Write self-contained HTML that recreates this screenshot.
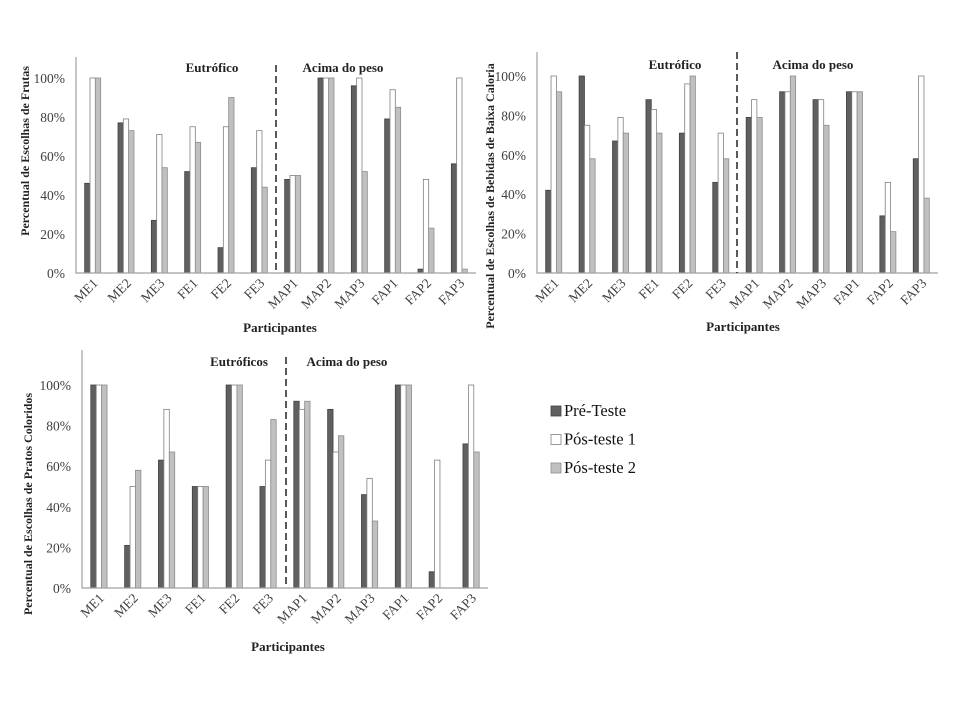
<!DOCTYPE html>
<html><head><meta charset="utf-8"><style>
body{margin:0;background:#fff;}
svg{display:block;font-family:"Liberation Serif",serif;}
</style></head><body>
<svg id="root" width="960" height="720" viewBox="0 0 960 720"></svg>
<script>
const categories = ["ME1","ME2","ME3","FE1","FE2","FE3","MAP1","MAP2","MAP3","FAP1","FAP2","FAP3"];
const seriesNames = ["Pré-Teste","Pós-teste 1","Pós-teste 2"];
const yTicks = [0,20,40,60,80,100];
const frutasPre = [46,77,27,52,13,54,48,100,96,79,2,56];
const frutasPos1 = [100,79,71,75,75,73,50,100,100,94,48,100];
const frutasPos2 = [100,73,54,67,90,44,50,100,52,85,23,2];
const bebidasPre = [42,100,67,88,71,46,79,92,88,92,29,58];
const bebidasPos1 = [100,75,79,83,96,71,88,92,88,92,46,100];
const bebidasPos2 = [92,58,71,71,100,58,79,100,75,92,21,38];
const pratosPre = [100,21,63,50,100,50,92,88,46,100,8,71];
const pratosPos1 = [100,50,88,50,100,63,88,67,54,100,63,100];
const pratosPos2 = [100,58,67,50,100,83,92,75,33,100,0,67];

const NS="http://www.w3.org/2000/svg";
const root=document.getElementById('root');
const fills=["#606060","#ffffff","#c0c0c0"];
const strokes=["#404040","#808080","#8c8c8c"];
function mk(tag,attrs,parent){const e=document.createElementNS(NS,tag);for(const k in attrs)e.setAttribute(k,attrs[k]);(parent||root).appendChild(e);return e;}

function chart(id,cfg,series){
  const g=mk('g',{});
  
  
  const x0=cfg.x0,x1=cfg.x1,yb=cfg.y0,yt=cfg.y100;
  const yS=v=>yb-(v/100)*(yb-yt);
  const gw=(x1-x0)/categories.length;
  const bw=gw*0.16;
  // y ticks
  yTicks.forEach(t=>{
    const tx=mk('text',{x:x0-11,y:yS(t)+5,'text-anchor':'end','font-size':13.5,fill:'#404040'},g);
    tx.textContent=t+'%';
    
    
  });
  // bars
  categories.forEach((c,i)=>{
    const cx=x0+gw*(i+0.5);
    series.forEach((arr,s)=>{
      const v=arr[i];
      const r=mk('rect',{x:cx-1.5*bw+s*bw,y:yS(v),width:bw,height:Math.max(0,yb-yS(v)),fill:fills[s],stroke:strokes[s],'stroke-width':0.8},g);
      
      
    });
    const lx=cx+6,ly=yb+11;
    const tl=mk('text',{x:lx,y:ly,'text-anchor':'end','font-size':13.5,fill:'#404040',transform:`rotate(-45 ${lx} ${ly})`},g);
    tl.textContent=c;
    
    
  });
  // axes
  const ax=mk('path',{d:`M${x0} ${cfg.top} V${yb} H${x1}`,fill:'none',stroke:'#a0a0a0','stroke-width':1.2},g);
  
  
  const dl=mk('line',{x1:cfg.dash,x2:cfg.dash,y1:cfg.dashTop,y2:yb,stroke:'#222','stroke-width':1.5,'stroke-dasharray':'7,4'},g);
  
  
  const l1=mk('text',{x:cfg.lab1x,y:cfg.laby,'text-anchor':'middle','font-size':13,'font-weight':'bold',fill:'#222'},g);
  l1.textContent=cfg.lab1;
  
  
  const l2=mk('text',{x:cfg.lab2x,y:cfg.laby,'text-anchor':'middle','font-size':13,'font-weight':'bold',fill:'#222'},g);
  l2.textContent='Acima do peso';
  
  
  const xt=mk('text',{x:cfg.xtx,y:cfg.xty,'text-anchor':'middle','font-size':13,'font-weight':'bold',fill:'#222'},g);
  xt.textContent='Participantes';
  
  
  const yt2=mk('text',{x:cfg.ytx,y:cfg.yty,'text-anchor':'middle','font-size':12,'font-weight':'bold',fill:'#222',transform:`rotate(-90 ${cfg.ytx} ${cfg.yty})`},g);
  yt2.textContent=cfg.ytitle;
  
  
}

chart('frutas',{x0:76,x1:476,y0:273,y100:78,top:57,dash:276,dashTop:65,lab1:'Eutrófico',lab1x:212,lab2x:343,laby:72,xtx:280,xty:332,ytx:29,yty:151,ytitle:'Percentual de Escolhas de Frutas'},[frutasPre,frutasPos1,frutasPos2]);
chart('bebidas',{x0:537,x1:938,y0:273,y100:76,top:52,dash:737,dashTop:52,lab1:'Eutrófico',lab1x:675,lab2x:813,laby:69,xtx:743,xty:331,ytx:494,yty:196,ytitle:'Percentual de Escolhas de Bebidas de Baixa Caloria'},[bebidasPre,bebidasPos1,bebidasPos2]);
chart('pratos',{x0:82,x1:488,y0:588,y100:385,top:350,dash:286,dashTop:357,lab1:'Eutróficos',lab1x:239,lab2x:347,laby:366,xtx:288,xty:651,ytx:32,yty:504,ytitle:'Percentual de Escolhas de Pratos Coloridos'},[pratosPre,pratosPos1,pratosPos2]);

// legend
const lg=mk('g',{});


seriesNames.forEach((n,s)=>{
  const y=406+s*28.5;
  const r=mk('rect',{x:551,y:y,width:10,height:10,fill:fills[s],stroke:strokes[s],'stroke-width':0.8},lg);
  
  
  const t=mk('text',{x:564,y:y+10,'font-size':16.5,fill:'#111'},lg);
  t.textContent=n;
  
  
});
</script>
</body></html>
